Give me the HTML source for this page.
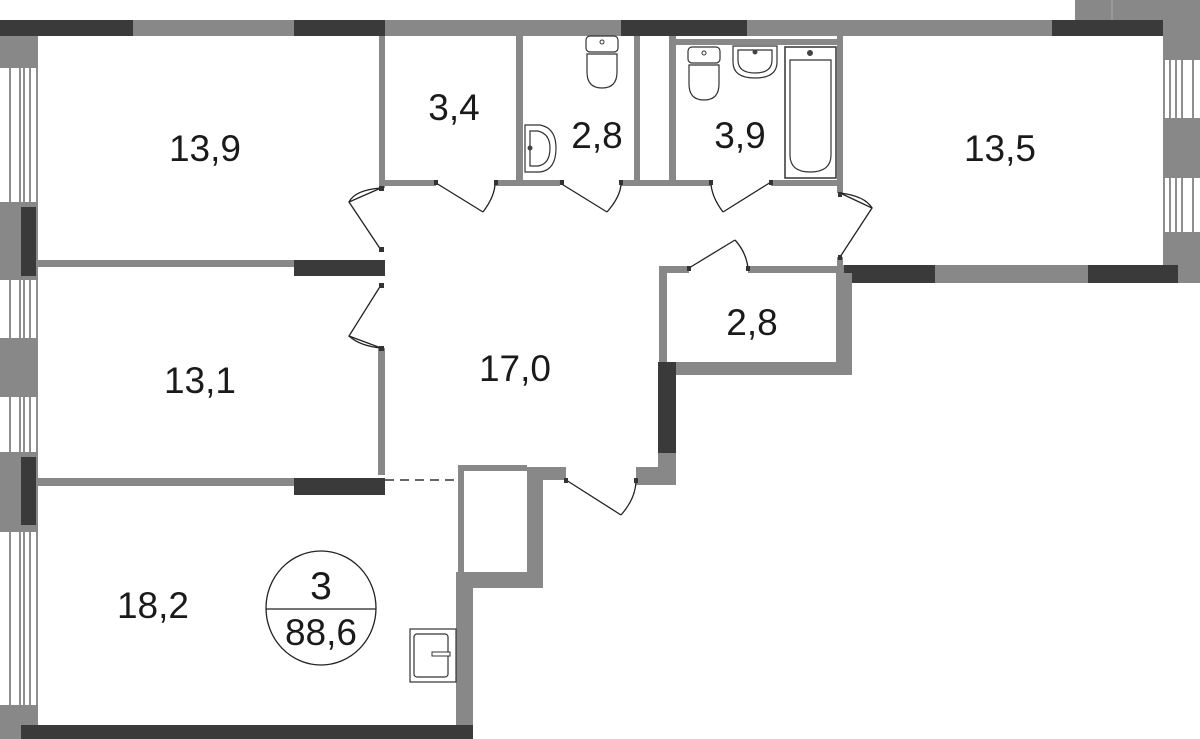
<!DOCTYPE html>
<html><head><meta charset="utf-8"><style>
html,body{margin:0;padding:0;background:#fff;width:1200px;height:739px;overflow:hidden}
svg{display:block}
text{font-family:"Liberation Sans",sans-serif;font-size:37px;fill:#1a1a1a;text-anchor:middle}
</style></head><body>
<svg width="1200" height="739" viewBox="0 0 1200 739" xmlns="http://www.w3.org/2000/svg">
<!-- top wall -->
<rect x="0" y="20" width="1165" height="16" fill="#888"/>
<rect x="0" y="20" width="133" height="16" fill="#3a3a3a"/>
<rect x="294" y="20" width="91" height="16" fill="#3a3a3a"/>
<rect x="621" y="20" width="126" height="16" fill="#3a3a3a"/>
<rect x="1052" y="20" width="126" height="16" fill="#3a3a3a"/>
<rect x="1075" y="0" width="125" height="20" fill="#888"/>
<line x1="1112" y1="0" x2="1112" y2="20" stroke="#aaa" stroke-width="1"/>
<rect x="1163" y="20" width="37" height="16" fill="#888"/>
<!-- left wall -->
<rect x="0" y="36" width="38" height="32" fill="#888"/>
<rect x="0" y="202" width="38" height="78" fill="#888"/>
<rect x="21" y="207" width="15" height="69" fill="#3a3a3a"/>
<rect x="0" y="338" width="38" height="59" fill="#888"/>
<rect x="0" y="452" width="38" height="80" fill="#888"/>
<rect x="21" y="457" width="15" height="68" fill="#3a3a3a"/>
<rect x="0" y="705" width="38" height="34" fill="#888"/>
<g stroke="#444" stroke-width="1.2">
<path d="M10 68V202M20 68V202M24 68V202M30 68V202M37 68V202"/>
<path d="M10 280V338M20 280V338M24 280V338M30 280V338M37 280V338"/>
<path d="M10 397V452M20 397V452M24 397V452M30 397V452M37 397V452"/>
<path d="M10 532V705M20 532V705M24 532V705M30 532V705M37 532V705"/>
</g>
<!-- right wall -->
<rect x="1163" y="36" width="37" height="24" fill="#888"/>
<rect x="1163" y="118" width="37" height="60" fill="#888"/>
<rect x="1163" y="232" width="37" height="51" fill="#888"/>
<g stroke="#444" stroke-width="1.2">
<path d="M1164 60V118M1170 60V118M1176 60V118M1182 60V118M1193 60V118"/>
<path d="M1164 178V232M1170 178V232M1176 178V232M1182 178V232M1193 178V232"/>
</g>
<!-- bottom of 13,5 -->
<rect x="838" y="265" width="340" height="18" fill="#888"/>
<rect x="844" y="265" width="91" height="18" fill="#3a3a3a"/>
<rect x="1088" y="265" width="90" height="18" fill="#3a3a3a"/>
<!-- interior walls -->
<g fill="#888">
<rect x="379" y="36" width="6" height="152"/>
<rect x="378" y="348" width="7" height="127"/>
<rect x="38" y="260" width="256" height="7"/>
<rect x="38" y="478" width="256" height="8"/>
<rect x="516" y="36" width="7" height="144"/>
<rect x="385" y="180" width="51" height="6"/>
<rect x="495" y="180" width="65" height="6"/>
<rect x="621" y="180" width="90" height="6"/>
<rect x="771" y="180" width="66" height="6"/>
<rect x="634" y="36" width="6" height="144"/>
<rect x="669" y="36" width="7" height="144"/>
<rect x="676" y="39" width="164" height="6"/>
<rect x="837" y="36" width="6" height="157"/>
<rect x="837" y="257" width="6" height="26"/>
<rect x="660" y="266" width="29" height="7"/>
<rect x="748" y="266" width="90" height="7"/>
<rect x="659" y="266" width="8" height="100"/>
<rect x="836" y="273" width="16" height="102"/>
<rect x="659" y="362" width="193" height="13"/>
<rect x="658" y="453" width="18" height="32"/>
<rect x="636" y="467" width="40" height="18"/>
<rect x="527" y="467" width="39" height="13"/>
<rect x="527" y="467" width="16" height="121"/>
<rect x="458" y="572" width="85" height="16"/>
<rect x="456" y="572" width="17" height="167"/>
<rect x="458" y="465" width="69" height="6"/>
<rect x="458" y="465" width="6" height="110"/>
</g>
<g fill="#3a3a3a">
<rect x="294" y="260" width="91" height="16"/>
<rect x="294" y="478" width="91" height="17"/>
<rect x="658" y="362" width="18" height="91"/>
<rect x="21" y="725" width="452" height="14"/>
</g>
<line x1="385" y1="480" x2="458" y2="480" stroke="#333" stroke-width="1.5" stroke-dasharray="9,6"/>
<!-- bathtub -->
<rect x="785" y="47" width="51" height="131" fill="#fff" stroke="#333" stroke-width="1.5"/>
<path d="M790 60 H831 V155 Q831 172 810 172 Q790 172 790 155 Z" fill="none" stroke="#333" stroke-width="1.2"/>
<circle cx="810" cy="53" r="3" fill="#444"/>
<!-- doors -->
<g fill="none" stroke="#222" stroke-width="1.3">
<path d="M381 188 L349 202 L381 250"/><path d="M381 188 Q355 190 349 202"/>
<path d="M381 285 L349 336 L381 348"/><path d="M349 336 Q360 346 381 348"/>
<path d="M436 183 L483 212"/><path d="M483 212 Q495 196 495 183"/>
<path d="M560 183 L607 212"/><path d="M607 212 Q621 196 621 183"/>
<path d="M771 182 L723 212"/><path d="M723 212 Q711 196 711 182"/>
<path d="M840 193 L872 208 L840 257"/><path d="M840 193 Q865 196 872 208"/>
<path d="M689 268 L735 240"/><path d="M735 240 Q746 252 748 268"/>
<path d="M566 480 L621 515"/><path d="M621 515 Q636 498 636 480"/>
</g>
<g fill="#333">
<rect x="379" y="186" width="5" height="5"/><rect x="379" y="247" width="5" height="5"/>
<rect x="379" y="283" width="5" height="5"/><rect x="379" y="346" width="5" height="5"/>
<rect x="434" y="180" width="4" height="5"/><rect x="494" y="180" width="4" height="5"/>
<rect x="560" y="180" width="4" height="5"/><rect x="619" y="180" width="4" height="5"/>
<rect x="709" y="180" width="4" height="5"/><rect x="769" y="180" width="4" height="5"/>
<rect x="838" y="192" width="4" height="5"/><rect x="838" y="255" width="4" height="5"/>
<rect x="687" y="266" width="4" height="5"/><rect x="746" y="266" width="4" height="5"/>
<rect x="564" y="478" width="4" height="5"/><rect x="634" y="478" width="4" height="5"/>
</g>
<!-- fixtures -->
<g fill="#fff" stroke="#333" stroke-width="1.2">
<path d="M525 125 H540 Q556 128 556 148 Q556 170 540 172 H525 Z"/>
<path d="M530 131 H538 Q550 134 550 148 Q550 164 538 166 H530 Z"/>
<rect x="586" y="36" width="32" height="16" rx="4"/>
<path d="M587 54 H617 V72 Q617 88 602 88 Q587 88 587 72 Z"/>
<rect x="688" y="47" width="32" height="16" rx="4"/>
<path d="M689 65 H719 V84 Q719 100 704 100 Q689 100 689 84 Z"/>
<path d="M733 46 H777 V62 Q777 78 755 78 Q733 78 733 62 Z"/>
<path d="M738 50 H772 V60 Q772 73 755 73 Q738 73 738 60 Z"/>
<rect x="410" y="629" width="46" height="53"/>
<rect x="414" y="634" width="34" height="43" rx="3"/>
</g>
<circle cx="530" cy="148" r="2.5" fill="#444"/>
<circle cx="704" cy="53" r="2" fill="none" stroke="#333"/>
<circle cx="602" cy="42" r="2" fill="none" stroke="#333"/>
<circle cx="755" cy="52" r="2.5" fill="#444"/>
<rect x="432" y="652" width="18" height="4" fill="#fff" stroke="#333"/>
<!-- circle badge -->
<ellipse cx="321" cy="608" rx="55" ry="57" fill="#fff" stroke="#222" stroke-width="1.3"/>
<line x1="266" y1="609" x2="376" y2="609" stroke="#222" stroke-width="1.3"/>
<text x="321" y="599" style="font-size:39px">3</text>
<text x="321" y="645" style="font-size:37px">88,6</text>
<!-- labels -->
<text x="205" y="161">13,9</text>
<text x="454" y="120">3,4</text>
<text x="597" y="148">2,8</text>
<text x="740" y="148">3,9</text>
<text x="1000" y="161">13,5</text>
<text x="515" y="381">17,0</text>
<text x="200" y="393">13,1</text>
<text x="752" y="335">2,8</text>
<text x="153" y="618">18,2</text>
</svg>
</body></html>
